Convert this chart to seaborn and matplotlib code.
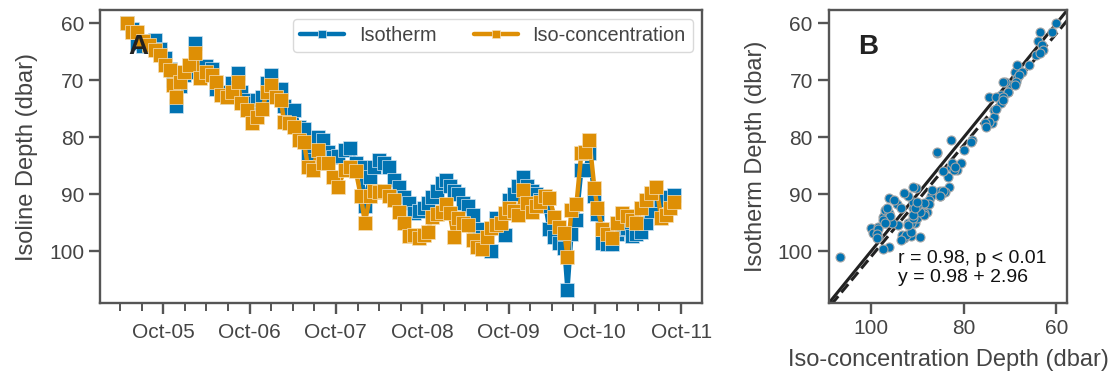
import numpy as np
import pandas as pd
import matplotlib
matplotlib.use("Agg")
import matplotlib.pyplot as plt
import matplotlib.dates as mdates
import seaborn as sns

dates = [
    "2005-05-02", "2005-05-23", "2005-06-13", "2005-07-09", "2005-08-03", "2005-08-28", "2005-09-18",
    "2005-10-09", "2005-10-31", "2005-11-12", "2005-11-25", "2005-12-12", "2005-12-29", "2006-01-19",
    "2006-02-13", "2006-03-06", "2006-04-01", "2006-04-26", "2006-05-13", "2006-06-03", "2006-06-28",
    "2006-07-19", "2006-08-14", "2006-08-26", "2006-09-21", "2006-10-12", "2006-11-02", "2006-11-23",
    "2006-12-14", "2006-12-31", "2007-01-21", "2007-02-11", "2007-02-24", "2007-03-17", "2007-04-07",
    "2007-04-28", "2007-05-19", "2007-06-05", "2007-06-26", "2007-07-17", "2007-08-08", "2007-08-29",
    "2007-09-19", "2007-10-10", "2007-11-08", "2007-11-30", "2007-12-25", "2008-01-15", "2008-02-01",
    "2008-02-22", "2008-03-10", "2008-03-31", "2008-04-21", "2008-05-12", "2008-06-02", "2008-06-24",
    "2008-07-15", "2008-08-05", "2008-08-26", "2008-09-16", "2008-10-07", "2008-10-24", "2008-11-10",
    "2008-12-01", "2008-12-22", "2009-01-08", "2009-01-25", "2009-02-11", "2009-02-28", "2009-03-21",
    "2009-04-11", "2009-05-02", "2009-05-19", "2009-06-09", "2009-06-30", "2009-07-17", "2009-08-07",
    "2009-08-28", "2009-09-14", "2009-10-01", "2009-10-22", "2009-11-08", "2009-11-29", "2009-12-20",
    "2010-01-10", "2010-01-27", "2010-02-13", "2010-03-06", "2010-03-23", "2010-04-13", "2010-05-04",
    "2010-05-25", "2010-06-07", "2010-06-24", "2010-07-15", "2010-08-05", "2010-08-22", "2010-09-08",
    "2010-09-29", "2010-10-12", "2010-11-02", "2010-11-23", "2010-12-14", "2011-01-04", "2011-01-25",
    "2011-02-15", "2011-03-09", "2011-03-25", "2011-04-16", "2011-05-07", "2011-05-28", "2011-06-18",
    "2011-07-09", "2011-07-30", "2011-08-16", "2011-09-02",
]

isotherm = [
    60.0, 61.0, 63.5, 64.0, 63.0, 62.9, 64.5,
    66.0, 68.0, 70.0, 74.5, 71.0, 69.0, 68.5,
    63.5, 68.5, 67.5, 68.0, 71.5, 72.0, 73.0,
    70.5, 68.7, 72.0, 73.5, 74.0, 73.5, 73.0,
    70.5, 69.0, 71.5, 71.5, 74.5, 75.5, 75.2,
    78.2, 78.5, 82.7, 81.5, 79.9, 80.5, 82.5,
    83.4, 83.2, 82.2, 81.8, 84.5, 85.2, 92.0,
    87.0, 85.2, 84.0, 84.5, 85.2, 87.5, 88.7,
    90.5, 91.5, 93.3, 93.0, 92.5, 91.5, 90.5,
    89.5, 88.0, 87.5, 88.5, 89.5, 90.0, 91.5,
    92.0, 93.6, 96.2, 97.5, 98.5, 100.0, 94.2,
    95.5, 97.1, 91.0, 90.0, 88.5, 86.9, 88.5,
    89.5, 90.0, 91.0, 92.0, 96.2, 97.5, 98.6,
    99.5, 106.8, 97.0, 94.5, 85.7, 85.7, 82.7,
    90.4, 93.5, 98.6, 98.7, 98.8, 97.0, 96.2,
    96.0, 97.4, 97.0, 96.6, 95.0, 93.0, 91.0,
    91.0, 91.0, 90.5, 90.1,
]

isoconc = [
    60.0, 61.5, 61.5, 63.0, 63.8, 64.6, 65.5,
    67.3, 68.2, 70.8, 73.0, 70.3, 68.5, 67.3,
    65.2, 69.6, 68.5, 69.0, 70.3, 72.5, 73.0,
    72.0, 70.3, 74.0, 75.2, 77.5, 76.5, 75.0,
    72.0, 70.8, 73.0, 73.5, 77.3, 77.5, 78.2,
    80.4, 80.8, 85.2, 85.7, 82.2, 84.5, 84.5,
    86.9, 88.7, 85.7, 85.3, 86.0, 90.4, 95.0,
    90.4, 89.5, 89.7, 89.5, 90.4, 91.0, 93.2,
    95.0, 97.4, 97.1, 97.7, 97.2, 96.6, 94.0,
    93.5, 93.1, 91.8, 93.3, 97.5, 94.2, 95.0,
    95.4, 98.0, 99.2, 99.7, 97.5, 96.0, 95.4,
    95.0, 93.3, 92.4, 93.0, 93.6, 89.2, 91.5,
    93.1, 92.0, 91.3, 90.4, 90.6, 94.0, 95.7,
    96.8, 101.0, 92.7, 91.8, 82.7, 82.5, 80.4,
    88.9, 92.4, 96.2, 97.0, 97.7, 95.0, 93.3,
    93.8, 94.5, 95.0, 92.4, 91.0, 89.8, 88.7,
    94.2, 93.6, 92.5, 91.3,
]

fit_slope = 0.98
fit_intercept = 2.96
stats_text = "r = 0.98, p < 0.01\ny = 0.98 + 2.96"

series_labels = ["Isotherm", "Iso-concentration"]

df = pd.DataFrame({
    "date": pd.to_datetime(dates),
    "Isotherm": isotherm,
    "Iso-concentration": isoconc,
})

sns.set_theme(style="ticks")
plt.rcParams["font.family"] = ["Liberation Sans", "DejaVu Sans"]
text_c = "#444444"
spine_c = "#555555"
plt.rcParams.update({
    "text.color": text_c,
    "axes.labelcolor": text_c,
    "xtick.color": spine_c,
    "ytick.color": spine_c,
    "xtick.labelcolor": text_c,
    "ytick.labelcolor": text_c,
    "axes.edgecolor": spine_c,
    "axes.linewidth": 1.7,
    "xtick.major.width": 1.7,
    "ytick.major.width": 1.7,
    "xtick.minor.width": 1.4,
    "xtick.major.size": 8,
    "xtick.minor.size": 5.5,
    "ytick.major.size": 8,
    "font.size": 15,
    "xtick.labelsize": 15,
    "ytick.labelsize": 15,
    "axes.labelsize": 17,
})

pal = sns.color_palette("colorblind")
blue, orange = pal[0], pal[1]

fig = plt.figure(figsize=(11.14, 3.77), dpi=100)
axA = fig.add_axes([0.0898, 0.196, 0.540, 0.777])
axB = fig.add_axes([0.744, 0.196, 0.214, 0.777])

sns.lineplot(data=df, x="date", y="Isotherm", ax=axA, color=blue, marker="s",
             markersize=9.5, linewidth=3.2, markeredgecolor="#cfe3f0", markeredgewidth=0.5,
             label=series_labels[0])
sns.lineplot(data=df, x="date", y="Iso-concentration", ax=axA, color=orange, marker="s",
             markersize=9.5, linewidth=3.2, markeredgecolor="#f5dfb8", markeredgewidth=0.5,
             label=series_labels[1])

axA.invert_yaxis()
ylim = axA.get_ylim()
axA.set_yticks([60, 70, 80, 90, 100])
axA.set_xlabel("")
axA.set_ylabel("Isoline Depth (dbar)", labelpad=8)
axA.xaxis.set_major_locator(mdates.MonthLocator(bymonth=10))
axA.xaxis.set_minor_locator(mdates.MonthLocator(bymonth=[1, 4, 7, 10]))
axA.xaxis.set_major_formatter(mdates.DateFormatter("%b-%y"))
axA.tick_params(axis="x", which="both", pad=6)
leg = axA.legend(loc="upper right", ncol=2, frameon=True, fontsize=14.3,
                 handlelength=2.2, handletextpad=0.75, columnspacing=1.9,
                 borderaxespad=0.45, borderpad=0.35, markerscale=0.6,
                 edgecolor="0.85", framealpha=1)
axA.text(0.063, 0.874, "A", transform=axA.transAxes, fontsize=20, fontweight="bold",
         color="#222222", ha="center", va="center")

sns.scatterplot(data=df, x="Isotherm", y="Iso-concentration", ax=axB, color=blue,
                s=42, edgecolor="0.65", linewidth=0.8, zorder=3)
axB.set_xlim(ylim)
axB.set_ylim(ylim)
axB.axline((60, 60), slope=1, color="#222222", lw=2.2, zorder=2)
axB.axline((0, fit_intercept), slope=fit_slope, color="#222222", lw=2.2, ls=(0, (3.5, 1.6)), zorder=2)
axB.set_xticks([100, 80, 60])
axB.set_yticks([60, 70, 80, 90, 100])
axB.set_xlabel("Iso-concentration Depth (dbar)", labelpad=8)
axB.set_ylabel("Isotherm Depth (dbar)", labelpad=8)
axB.text(0.164, 0.874, "B", transform=axB.transAxes, fontsize=20, fontweight="bold",
         color="#222222", ha="center", va="center")
axB.text(0.29, 0.06, stats_text, transform=axB.transAxes, fontsize=14,
         color="#111111", ha="left", va="bottom", linespacing=1.15)

fig.savefig("out.png", dpi=100)
